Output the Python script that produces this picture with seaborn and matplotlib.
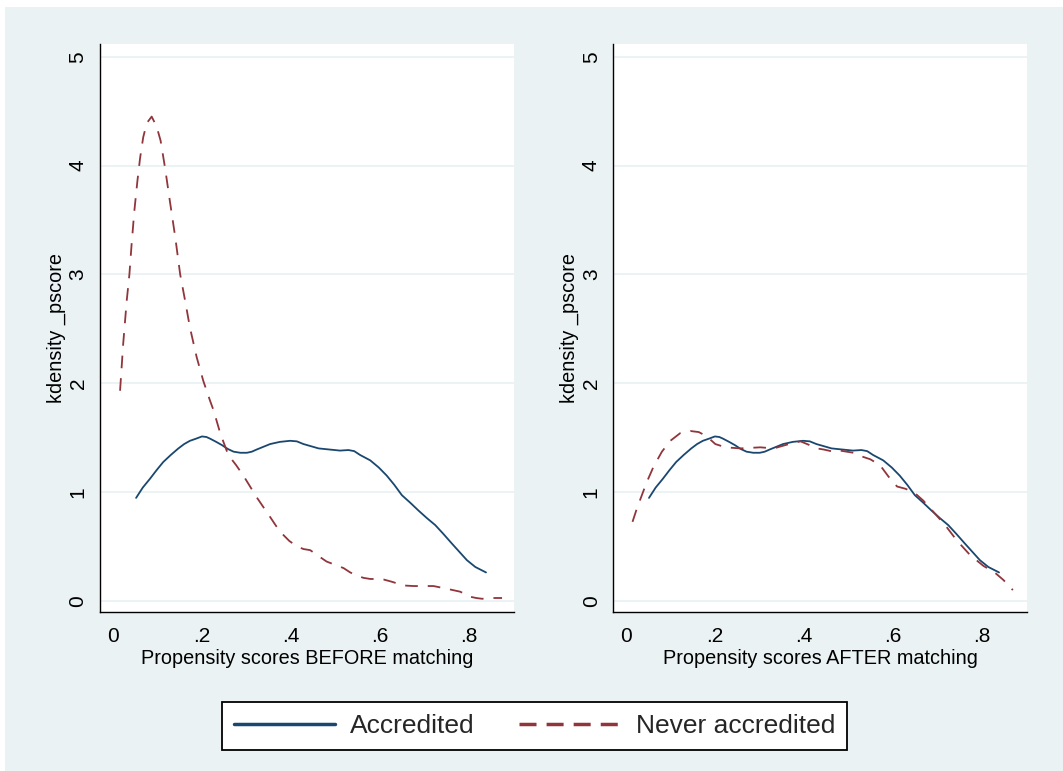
import pandas as pd
import matplotlib
matplotlib.use("Agg")
import matplotlib.pyplot as plt
from matplotlib.lines import Line2D
from matplotlib.patches import Rectangle
import seaborn as sns

# Values
acc_x = [0.052, 0.067, 0.083, 0.098, 0.113, 0.130, 0.147, 0.160, 0.173, 0.187,
         0.200, 0.210, 0.218, 0.232, 0.245, 0.258, 0.271, 0.286, 0.301, 0.312,
         0.323, 0.338, 0.353, 0.375, 0.398, 0.413, 0.428, 0.445, 0.462, 0.486,
         0.510, 0.529, 0.542, 0.555, 0.578, 0.597, 0.615, 0.632, 0.649, 0.668,
         0.686, 0.705, 0.724, 0.742, 0.761, 0.778, 0.795, 0.814, 0.838]
acc_y = [0.945, 1.04, 1.12, 1.20, 1.275, 1.34, 1.40, 1.44, 1.47, 1.49,
         1.51, 1.505, 1.49, 1.46, 1.43, 1.395, 1.37, 1.36, 1.36, 1.37,
         1.39, 1.415, 1.44, 1.46, 1.47, 1.465, 1.44, 1.42, 1.40, 1.39,
         1.38, 1.385, 1.375, 1.34, 1.29, 1.225, 1.15, 1.065, 0.97, 0.90,
         0.83, 0.76, 0.695, 0.615, 0.527, 0.45, 0.373, 0.31, 0.26]

never_before_x = [0.016, 0.023, 0.031, 0.037, 0.042, 0.048, 0.055, 0.061, 0.068, 0.076,
                  0.087, 0.098, 0.107, 0.117, 0.128, 0.140, 0.151, 0.162, 0.173, 0.188,
                  0.203, 0.218, 0.226, 0.241, 0.259, 0.276, 0.293, 0.308, 0.323, 0.338,
                  0.353, 0.366, 0.379, 0.396, 0.413, 0.428, 0.443, 0.462, 0.480, 0.499,
                  0.518, 0.533, 0.548, 0.563, 0.578, 0.593, 0.608, 0.626, 0.653, 0.675,
                  0.698, 0.720, 0.750, 0.780, 0.802, 0.816, 0.829, 0.851, 0.874]
never_before_y = [1.93, 2.36, 2.76, 3.00, 3.28, 3.58, 3.86, 4.07, 4.26, 4.39,
                  4.45, 4.36, 4.23, 3.98, 3.67, 3.34, 3.00, 2.76, 2.51, 2.24,
                  2.02, 1.84, 1.75, 1.54, 1.34, 1.25, 1.15, 1.05, 0.95, 0.86,
                  0.77, 0.69, 0.62, 0.55, 0.50, 0.475, 0.465, 0.41, 0.36, 0.33,
                  0.30, 0.26, 0.23, 0.21, 0.20, 0.20, 0.195, 0.175, 0.14, 0.135,
                  0.135, 0.135, 0.11, 0.083, 0.037, 0.025, 0.018, 0.025, 0.025]

never_after_x = [0.015, 0.025, 0.036, 0.047, 0.062, 0.081, 0.100, 0.122, 0.145, 0.164,
                 0.182, 0.201, 0.224, 0.257, 0.302, 0.332, 0.362, 0.392, 0.407, 0.429,
                 0.444, 0.466, 0.481, 0.511, 0.527, 0.549, 0.571, 0.590, 0.609, 0.627,
                 0.646, 0.668, 0.691, 0.717, 0.743, 0.773, 0.803, 0.829, 0.848, 0.869]
never_after_y = [0.725, 0.85, 0.97, 1.09, 1.23, 1.37, 1.47, 1.54, 1.56, 1.55,
                 1.51, 1.44, 1.41, 1.40, 1.41, 1.40, 1.435, 1.465, 1.44, 1.40,
                 1.39, 1.37, 1.38, 1.36, 1.33, 1.30, 1.245, 1.14, 1.05, 1.03,
                 1.00, 0.92, 0.815, 0.695, 0.555, 0.42, 0.32, 0.257, 0.19, 0.098]

groups = ["Accredited", "Never accredited"]
x_ticks = [0, 0.2, 0.4, 0.6, 0.8]
x_tick_labels = ["0", ".2", ".4", ".6", ".8"]
y_ticks = [0, 1, 2, 3, 4, 5]
panel_titles = ["Propensity scores BEFORE matching", "Propensity scores AFTER matching"]

NAVY = "#1A476F"
MAROON = "#90353B"
BG = "#EAF2F3"

sns.set_theme(style="white")
plt.rcParams["font.family"] = ["Liberation Sans", "DejaVu Sans"]


def panel_frame(never_x, never_y):
    a = pd.DataFrame({"x": acc_x, "y": acc_y, "group": groups[0]})
    n = pd.DataFrame({"x": never_x, "y": never_y, "group": groups[1]})
    return pd.concat([a, n], ignore_index=True)


fig = plt.figure(figsize=(10.63, 7.71), dpi=100)
fig.patch.set_facecolor("white")
fig.add_artist(Rectangle((5 / 1063, 0), 1, 1 - 7 / 771, transform=fig.transFigure,
                         facecolor=BG, edgecolor="none", zorder=-10))

axes = [fig.add_axes([0.0941, 0.2066, 0.3895, 0.7363]),
        fig.add_axes([0.5770, 0.2066, 0.3888, 0.7363])]
frames = [panel_frame(never_before_x, never_before_y),
          panel_frame(never_after_x, never_after_y)]
xlims = [(-0.029, 0.901), (-0.028, 0.900)]

for ax, df, title, xl in zip(axes, frames, panel_titles, xlims):
    ax.set_facecolor("white")
    sns.lineplot(data=df, x="x", y="y", hue="group", style="group",
                 palette={groups[0]: NAVY, groups[1]: MAROON},
                 dashes={groups[0]: "", groups[1]: (7, 5.5)},
                 estimator=None, sort=False, linewidth=1.3, legend=False, ax=ax)
    ax.set_xlim(*xl)
    ax.set_ylim(-0.101, 5.117)
    ax.set_xticks(x_ticks)
    ax.set_xticklabels(x_tick_labels)
    ax.set_yticks(y_ticks)
    ax.set_yticklabels([str(v) for v in y_ticks], rotation=90, va="center")
    ax.tick_params(axis="both", direction="out", length=6, width=1, color="black",
                   labelsize=15, labelcolor="black")
    ax.tick_params(axis="x", pad=5)
    ax.tick_params(axis="y", pad=3)
    ax.yaxis.grid(True, color=BG, linewidth=1.3)
    ax.xaxis.grid(False)
    ax.set_axisbelow(True)
    for side in ["top", "right"]:
        ax.spines[side].set_visible(False)
    for side in ["left", "bottom"]:
        ax.spines[side].set_color("black")
        ax.spines[side].set_linewidth(1)
    ax.set_xlabel(title, fontsize=14.3, color="black", labelpad=2)
    ax.set_ylabel("kdensity _pscore", fontsize=14.3, color="black", labelpad=2)

handles = [Line2D([], [], color=NAVY, lw=2.5),
           Line2D([], [], color=MAROON, lw=2.5, dashes=(4.9, 2.9))]
leg = fig.legend(handles, groups, loc="center", bbox_to_anchor=(0.5028, 0.0584),
                 ncol=2, fontsize=19, frameon=True, fancybox=False, framealpha=1,
                 edgecolor="black", handlelength=3.83, handletextpad=0.6,
                 columnspacing=1.67, borderpad=0.45)
leg.get_frame().set_linewidth(1.3)
leg.get_frame().set_facecolor("white")

fig.savefig("out.png", dpi=100, facecolor=fig.get_facecolor())
